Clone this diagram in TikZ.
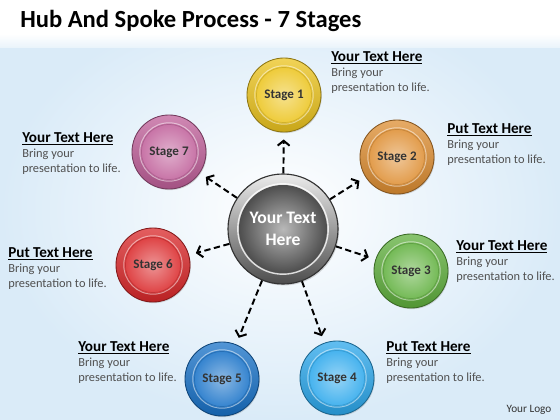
\documentclass[tikz,border=0pt]{standalone}
\usepackage{fontspec}
\setmainfont{Carlito}
\usetikzlibrary{arrows.meta,shadows}

\definecolor{bgblue}{RGB}{218,235,248}
\definecolor{bodygray}{RGB}{80,80,80}
\definecolor{yellowst}{RGB}{236,196,30}
\definecolor{orangest}{RGB}{222,142,50}
\definecolor{greenst}{RGB}{96,176,62}
\definecolor{skyst}{RGB}{44,168,236}
\definecolor{bluest}{RGB}{24,114,200}
\definecolor{redst}{RGB}{218,40,42}
\definecolor{pinkst}{RGB}{192,96,154}

\newcommand{\infotext}[1]{{\fontsize{10.8}{10.7}\selectfont\bfseries\color{black}\underline{#1}}\\Bring your\\presentation to life.}

\begin{document}
\begin{tikzpicture}[x=0.025cm,y=-0.025cm,
	stage/.style={circle, minimum size=1.85cm, inner sep=0pt, draw=#1!60!black, line width=.6pt,
		top color=#1!75!white, bottom color=#1!85!black,
		font=\bfseries\fontsize{9.3}{10}\selectfont, text=black!80,
		drop shadow={opacity=.3, shadow xshift=.6pt, shadow yshift=-.8pt},
		path picture={
			\shade[inner color=#1!50!white, outer color=#1] (path picture bounding box.center) circle (0.71cm);
			\draw[white, opacity=.5, line width=.7pt] (path picture bounding box.center) circle (0.73cm);
			\draw[#1!70!black, opacity=.4, line width=.5pt] (path picture bounding box.center) circle (0.69cm);
		}},
	hub/.style={circle, minimum size=2.75cm, inner sep=0pt, draw=gray!40!black, line width=.8pt,
		top color=gray!15, bottom color=gray!60!black,
		drop shadow={opacity=.3, shadow xshift=.8pt, shadow yshift=-1pt},
		path picture={
			\shade[inner color=gray!55, outer color=gray!40!black] (path picture bounding box.center) circle (1.1cm);
			\draw[white, opacity=.8, line width=1pt] (path picture bounding box.center) circle (1.13cm);
		},
		font=\bfseries\fontsize{12.5}{16}\selectfont, text=white, align=center},
	info/.style={anchor=north west, inner sep=0pt, align=left, text=bodygray, font=\fontsize{8.8}{10.7}\selectfont},
	spoke/.style={line width=1.4pt, dash pattern=on 4.5pt off 2.5pt, -{Straight Barb[length=3.5pt,width=8.5pt]}, shorten >=5pt}]
	\useasboundingbox (0,0) rectangle (560,420);
	% background
	\shade[inner color=white, outer color=bgblue] (0,0) rectangle (560,420);
	\fill[white] (0,0) rectangle (560,34);
	\shade[top color=white, bottom color=white!40!bgblue] (0,34) rectangle (560,48);
	\node[anchor=west, inner sep=0pt, font=\bfseries\fontsize{17.5}{20}\selectfont] (title) at (20,21) {Hub And Spoke Process - 7 Stages};

	\node[hub] (hub) at (283,229) {Your Text\\Here};

	\node[stage=yellowst] (s1) at (284,95) {Stage 1};
	\node[stage=orangest] (s2) at (397,157) {Stage 2};
	\node[stage=greenst] (s3) at (411,271) {Stage 3};
	\node[stage=skyst] (s4) at (337,378) {Stage 4};
	\node[stage=bluest] (s5) at (222,379) {Stage 5};
	\node[stage=redst] (s6) at (153,265) {Stage 6};
	\node[stage=pinkst] (s7) at (169,152) {Stage 7};

	\foreach \s in {1,...,7}
		\draw[spoke] (hub) -- (s\s);

	\node[info] (t1) at (331,51) {\infotext{Your Text Here}};
	\node[info] (t2) at (447,123) {\infotext{Put Text Here}};
	\node[info] (t3) at (456,240) {\infotext{Your Text Here}};
	\node[info] (t4) at (386,341) {\infotext{Put Text Here}};
	\node[info] (t5) at (78,341) {\infotext{Your Text Here}};
	\node[info] (t6) at (8,247) {\infotext{Put Text Here}};
	\node[info] (t7) at (22,132) {\infotext{Your Text Here}};

	\node[font=\fontsize{8}{9}\selectfont, text=black!80] (logo) at (529,410) {Your Logo};
\end{tikzpicture}
\end{document}
